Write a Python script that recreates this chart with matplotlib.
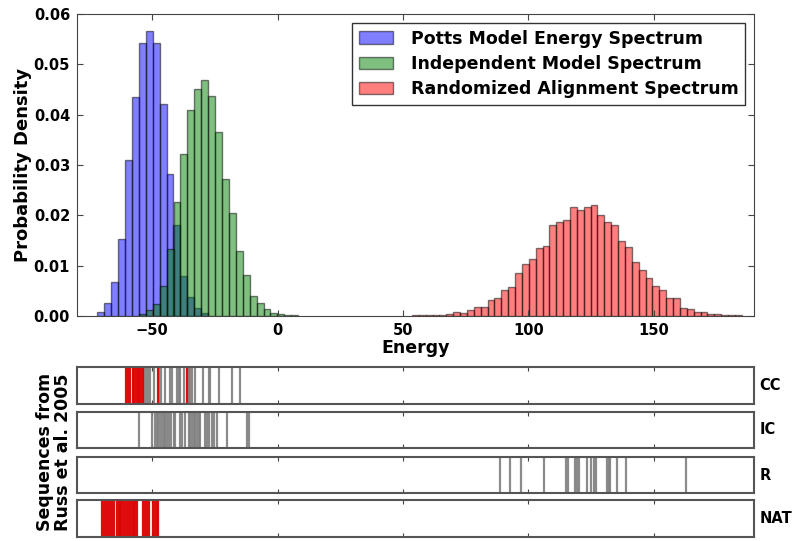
import numpy as np
import matplotlib
matplotlib.use("Agg")
import matplotlib.pyplot as plt

# ---------------- data ----------------
potts_start, potts_width = -71.9, 2.76
potts_density = [0.0008, 0.0026, 0.0068, 0.0152, 0.0309, 0.0436, 0.0542, 0.0566,
                 0.0542, 0.0421, 0.0282, 0.0180, 0.0079, 0.0038, 0.0015, 0.0005]

indep_start, indep_width = -55.3, 2.76
indep_density = [0.0003, 0.0011, 0.0024, 0.0060, 0.0134, 0.0227, 0.0321, 0.0409,
                 0.0450, 0.0469, 0.0437, 0.0365, 0.0272, 0.0204, 0.0130, 0.0081,
                 0.0040, 0.0025, 0.0014, 0.0005, 0.0003, 0.0001, 0.0001]

rand_start, rand_width = 53.6, 2.74
rand_density = [0.0001, 0.0001, 0.0001, 0.0001, 0.0001, 0.0003, 0.0008, 0.0006,
                0.0012, 0.0017, 0.0017, 0.0032, 0.0036, 0.0051, 0.0058, 0.0086,
                0.0104, 0.0114, 0.0135, 0.0140, 0.0181, 0.0187, 0.0190, 0.0217,
                0.0210, 0.0217, 0.0221, 0.0201, 0.0186, 0.0180, 0.0149, 0.0137,
                0.0107, 0.0091, 0.0076, 0.0059, 0.0051, 0.0036, 0.0036, 0.0015,
                0.0014, 0.0008, 0.0008, 0.0004, 0.0003, 0.0001, 0.0001, 0.0002]

series_labels = ["Potts Model Energy Spectrum", "Independent Model Spectrum",
                 "Randomized Alignment Spectrum"]

cc_gray = [-53.1, -52.4, -51.5, -50.7, -49.1, -47.1, -46.4, -44.8, -42.8, -42.2,
           -40.2, -39.5, -38.8, -37.5, -35.5, -34.8, -34.1, -32.9, -29.9, -27.5,
           -26.9, -23.3, -18.2, -14.9]
cc_red = [-60.4, -59.7, -58.8, -57.7, -57.1, -56.4, -55.7, -55.1, -54.4, -53.7,
          -47.8, -36.2]

ic_gray = [-55.2, -49.9, -48.8, -48.1, -47.5, -46.8, -46.1, -45.5, -44.8, -44.2,
           -43.5, -42.4, -41.5, -40.8, -38.8, -38.2, -36.8, -35.5, -34.8, -34.1,
           -33.5, -32.9, -32.2, -31.5, -30.9, -28.9, -28.2, -27.5, -26.2, -25.5,
           -24.2, -20.2, -12.2, -11.6]
ic_red = []

r_gray = [88.6, 92.6, 96.9, 106.2, 115.2, 115.8, 118.6, 119.5, 120.3, 123.2,
          125.1, 126.1, 126.8, 131.2, 132.0, 132.5, 135.2, 138.8, 162.8]
r_red = []

nat_gray = [-62.8, -57.2]
nat_red = [-70.0, -69.2, -68.4, -67.6, -66.8, -66.0, -65.2, -64.0, -63.2, -62.4,
           -61.6, -60.8, -60.0, -59.2, -58.4, -57.6, -56.8, -56.0, -53.6, -52.8,
           -52.0, -51.2, -49.6, -48.8, -48.0, -47.6]

panel_names = ["CC", "IC", "R", "NAT"]
panel_gray = [cc_gray, ic_gray, r_gray, nat_gray]
panel_red = [cc_red, ic_red, r_red, nat_red]

xlim = (-80, 190)
x_ticks = [-50, 0, 50, 100, 150]
x_tick_labels = ["\u221250", "0", "50", "100", "150"]
y_ticks = [0.00, 0.01, 0.02, 0.03, 0.04, 0.05, 0.06]

# ---------------- style ----------------
plt.rcParams['font.family'] = ['DejaVu Sans']
plt.rcParams['font.weight'] = 'bold'
plt.rcParams['axes.labelweight'] = 'bold'

W, H = 797, 541
fig = plt.figure(figsize=(W / 100, H / 100), dpi=100)

def px_axes(left, top, right, bottom):
    return fig.add_axes([left / W, 1 - bottom / H, (right - left) / W, (bottom - top) / H])

spine_col = '#444444'

ax = px_axes(77, 14, 754, 316)
def bars(start, width, vals, color, label):
    edges = start + width * np.arange(len(vals))
    return ax.bar(edges, vals, width=width, align='edge', color=color, alpha=0.5,
                  edgecolor='black', linewidth=1.0, label=label)

bars(potts_start, potts_width, potts_density, 'blue', series_labels[0])
bars(indep_start, indep_width, indep_density, 'green', series_labels[1])
bars(rand_start, rand_width, rand_density, 'red', series_labels[2])

ax.set_xlim(*xlim)
ax.set_ylim(0, 0.06)
ax.set_xticks(x_ticks)
ax.set_xticklabels(x_tick_labels)
ax.set_yticks(y_ticks)
ax.set_yticklabels([f"{v:.2f}" for v in y_ticks])
ax.tick_params(direction='in', top=True, right=True, length=4, labelsize=10.5,
               color=spine_col, pad=5)
for s in ax.spines.values():
    s.set_color(spine_col)
ax.set_xlabel("Energy", fontsize=12.5, fontweight='bold', labelpad=1)
ax.set_ylabel("Probability Density", fontsize=13, fontweight='bold', labelpad=1)
leg = ax.legend(loc='upper right', fontsize=12.5, frameon=True, fancybox=False,
                edgecolor='#333333', framealpha=1, labelspacing=0.42,
                handlelength=2.0, handletextpad=1.0, borderpad=0.4,
                borderaxespad=0.5)
leg.get_frame().set_linewidth(1.0)

# ---------------- lower panels ----------------
panel_px = [(367, 404), (412, 448), (457, 493), (500, 537)]
for (top, bot), name, gl, rl in zip(panel_px, panel_names, panel_gray, panel_red):
    a = px_axes(77, top, 754, bot)
    for x in gl:
        a.axvline(x, color='#7f7f7f', linewidth=1.6, alpha=0.9)
    for x in rl:
        a.axvline(x, color='#dd0000', linewidth=1.6, alpha=0.95)
    a.set_xlim(*xlim)
    a.set_ylim(0, 1)
    a.set_xticks(x_ticks)
    a.set_yticks([])
    a.tick_params(direction='in', top=True, bottom=True, length=3,
                  labelbottom=False, color=spine_col)
    for s in a.spines.values():
        s.set_color('#555555')
        s.set_linewidth(1.5)
    a.text(1.008, 0.5, name, transform=a.transAxes, ha='left', va='center',
           fontsize=10.5, fontweight='bold')

fig.text(54 / W, 1 - 452 / H, "Sequences from\nRuss et al. 2005", rotation=90,
         ha='center', va='center', fontsize=12.5, fontweight='bold',
         linespacing=1.0)

fig.savefig("out.png", dpi=100)
